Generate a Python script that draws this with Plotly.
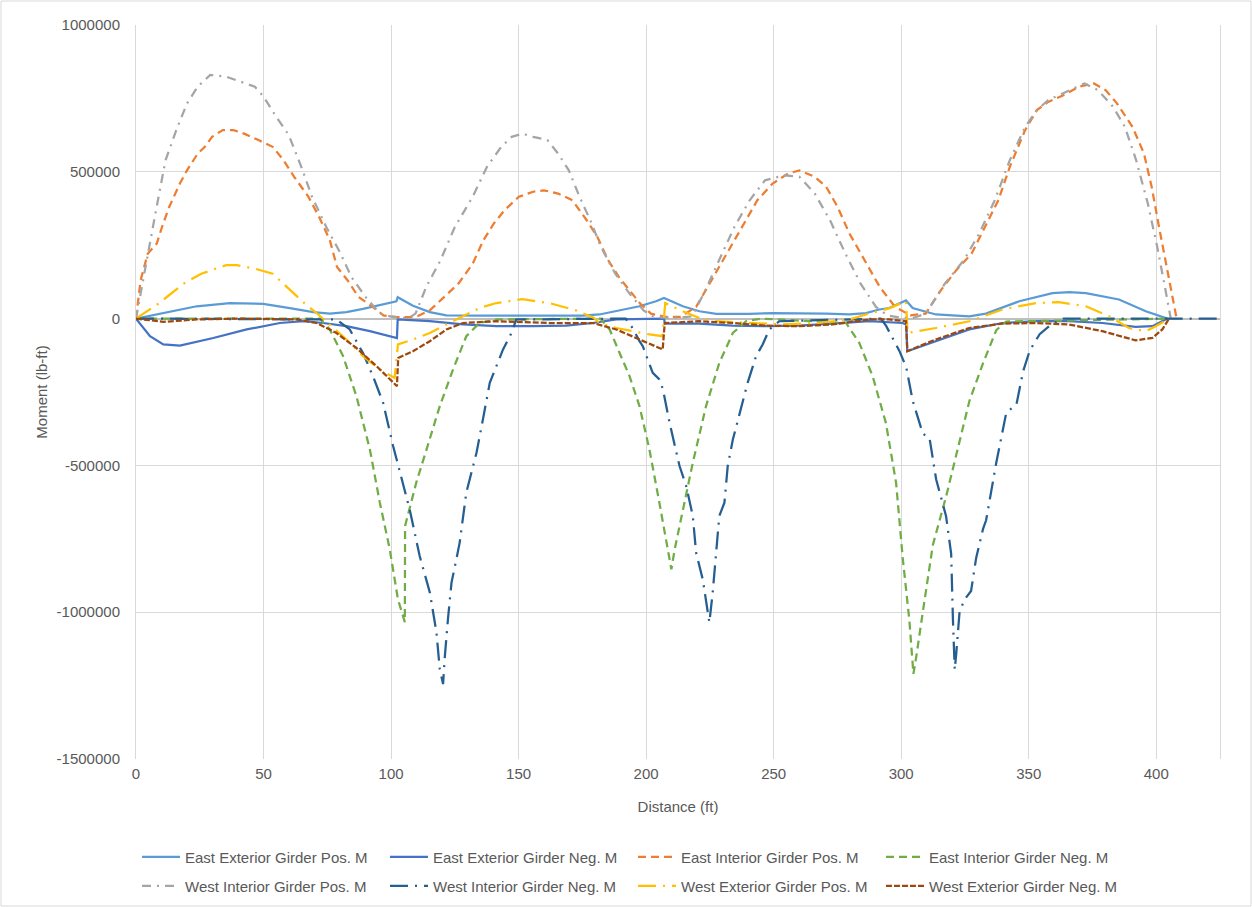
import plotly.graph_objects as go

# ---------------- data (Distance ft, Moment lb-ft) ----------------
eep_x = [0, 10.7, 23.8, 36.8, 49.9, 60.3, 69.5, 76, 82.5, 89,
         96.9, 102.1, 102.6, 108.6, 115.2, 121.7, 134.7, 155.6, 175.1, 181.7,
         188.3, 197.4, 203.9, 207, 214.4, 220.9, 227.5, 240.5, 249.6, 260.1,
         270.5, 279.7, 286.2, 291.4, 295.3, 301.9, 304.5, 313.6, 326.7, 333.2,
         346.3, 359.3, 366, 372.4, 385.4, 395.9, 404.4]
eep_y = [0, 19000, 42000, 53000, 50000, 36000, 22000, 17000, 22000, 33000,
         50000, 59000, 73000, 44000, 22000, 11000, 10000, 10000, 10000, 14000,
         25000, 42000, 59000, 70000, 42000, 25000, 16000, 16000, 19000, 19000,
         17000, 14000, 19000, 31000, 36000, 62000, 36000, 14000, 8000, 17000,
         59000, 87000, 90000, 87000, 65000, 25000, 0]

een_x = [0, 5.5, 10.7, 17.2, 30.3, 43.4, 56.4, 65.5, 73.4, 82.5,
         91.7, 102.3, 102.6, 115.2, 128.2, 141.3, 155.6, 168.7, 179.1, 188.3,
         207, 207.4, 220.9, 233.9, 247, 260.1, 273, 287.5, 300.5, 302,
         302.4, 313.6, 326.7, 339.7, 352.8, 365.8, 378.9, 391.9, 398.5, 404.4]
een_y = [0, -60000, -88000, -92000, -66000, -37000, -15000, -9000, -15000, -26000,
         -43000, -66000, -3000, -9000, -20000, -26000, -26000, -24000, -15000, -3000,
         0, -17000, -17000, -24000, -26000, -24000, -17000, -9000, -15000, -20000,
         -111000, -77000, -37000, -15000, -9000, -9000, -15000, -28000, -26000, 0]

eip_x = [0, 1.8, 4.6, 8.1, 10.2, 13, 17.2, 20, 24.2, 27,
         29.8, 34, 38.2, 42.4, 48, 53.6, 57.8, 62, 67.6, 71.8,
         76, 78.8, 83, 87.2, 92.8, 97, 102.6, 109.6, 115.2, 120.8,
         126.4, 132, 136.2, 140.3, 144.5, 150.1, 155.7, 159.9, 165.5, 171.1,
         176.7, 180.9, 185.1, 189.3, 193.5, 197.7, 201.9, 207.5, 213.5, 219.6,
         225.6, 231.6, 237.6, 243.6, 249.6, 255.6, 260.1, 266.1, 270.6, 275.1,
         279.7, 285.5, 291.6, 297.6, 303.6, 309.6, 315.6, 321.6, 327.6, 332.2,
         338.1, 342.6, 348.6, 353.2, 357.6, 363.6, 369.7, 375.6, 380.2, 384.6,
         390.7, 395.2, 398.2, 401.1, 404.2, 406.4, 408]
eip_y = [0, 130000, 221000, 255000, 312000, 380000, 460000, 505000, 562000, 585000,
         619000, 642000, 642000, 630000, 608000, 585000, 540000, 483000, 415000, 346000,
         267000, 176000, 130000, 74000, 40000, 11000, 5000, 5000, 28000, 74000,
         119000, 187000, 267000, 324000, 369000, 415000, 432000, 437000, 426000, 403000,
         335000, 278000, 199000, 142000, 97000, 51000, 17000, 6000, 6000, 40000,
         130000, 221000, 312000, 403000, 460000, 494000, 505000, 483000, 449000, 380000,
         290000, 199000, 108000, 40000, 11000, 17000, 97000, 165000, 221000, 301000,
         403000, 517000, 642000, 710000, 738000, 761000, 790000, 801000, 778000, 733000,
         653000, 562000, 449000, 312000, 176000, 74000, 0]

ein_x = [0, 72, 76, 81.2, 86.4, 91.7, 95.6, 99.5, 102.7, 105.4,
         105.5, 109.9, 113.9, 119.1, 124.3, 129.5, 134.7, 141.3, 182, 185.7,
         189.6, 193.5, 197.4, 201.3, 205.2, 207.9, 209.9, 211.2, 214.4, 218.3,
         223.5, 228.7, 234, 239.2, 245, 278.4, 283.6, 288.8, 294, 298,
         300.6, 303.2, 304.8, 305.9, 308.5, 312.4, 317.7, 321.6, 326.8, 332.1,
         337.3, 341.2, 405]
ein_y = [0, 0, -37000, -128000, -264000, -446000, -627000, -786000, -956000, -1034000,
         -706000, -558000, -446000, -298000, -173000, -60000, -15000, -3000, 0, -37000,
         -117000, -196000, -298000, -446000, -627000, -763000, -854000, -786000, -650000, -491000,
         -298000, -151000, -49000, -9000, 0, -15000, -83000, -196000, -355000, -559000,
         -815000, -1027000, -1210000, -1153000, -998000, -772000, -603000, -463000, -279000, -152000,
         -39000, -10000, 0]

wip_x = [0, 3.2, 5.3, 8.1, 11.6, 15.8, 20, 24.2, 29.1, 35.4,
         41, 46.6, 50.1, 55, 59.9, 64.8, 69, 74.6, 80.2, 84.4,
         90, 95.6, 100.5, 104, 107, 109.6, 113.8, 119.4, 125, 132,
         137.6, 143.2, 147.3, 151.5, 155.7, 161.3, 165.5, 169.7, 173.9, 178.1,
         182.3, 187.9, 193.5, 199, 203, 207.6, 213, 218, 222.6, 228.6,
         234.6, 240.6, 246.6, 254.1, 260.1, 266.1, 272.1, 278.1, 284.1, 290.1,
         294.6, 300, 305, 309.6, 317.1, 324.6, 330.6, 336.7, 342.6, 348.6,
         353.2, 357.6, 363.6, 371.9, 377.2, 383.1, 387.7, 392.1, 396.7, 400.4,
         403.4, 405.7]
wip_y = [0, 153000, 261000, 381000, 540000, 642000, 733000, 790000, 830000, 824000,
         807000, 790000, 755000, 687000, 625000, 517000, 415000, 312000, 222000, 142000,
         74000, 17000, 6000, 2000, 3000, 17000, 108000, 199000, 312000, 415000,
         517000, 585000, 619000, 630000, 619000, 608000, 562000, 505000, 415000, 335000,
         244000, 153000, 85000, 28000, 6000, 3000, 3000, 8000, 85000, 199000,
         312000, 403000, 471000, 488000, 483000, 426000, 335000, 222000, 119000, 40000,
         11000, 3000, 3000, 17000, 119000, 199000, 290000, 403000, 540000, 653000,
         710000, 744000, 767000, 801000, 778000, 721000, 653000, 540000, 392000, 244000,
         108000, 0]

win_x = [0, 78.6, 83.8, 89, 92.9, 96.9, 100.8, 104.7, 107.3, 111.2,
         115.2, 117.8, 119.1, 120.4, 121, 122.3, 123.7, 125.6, 126.9, 129.5,
         130.8, 133.5, 136, 138.7, 141.3, 143.9, 147.2, 149.1, 192, 194.7,
         197.4, 198.7, 202.6, 205.2, 206.6, 209.2, 213.1, 215.7, 218.3, 219.6,
         222.2, 224.2, 224.8, 226.1, 227.5, 228.7, 230.7, 232, 234, 237.9,
         239.8, 243.1, 245.7, 248.3, 252.2, 292, 294.1, 299.3, 302, 304.5,
         308.5, 311.1, 313.7, 317.6, 319.6, 320.3, 321, 321.6, 322.9, 324.9,
         327.4, 329.4, 332.1, 333.3, 337.3, 341.2, 345.2, 347.8, 350.4, 354.3,
         358.3, 363, 425]
win_y = [0, -3000, -37000, -117000, -196000, -287000, -434000, -559000, -650000, -808000,
         -933000, -1069000, -1194000, -1245000, -1160000, -1024000, -899000, -820000, -763000, -593000,
         -548000, -457000, -344000, -219000, -162000, -105000, -49000, -3000, 0, -32000,
         -77000, -94000, -185000, -207000, -241000, -355000, -502000, -570000, -672000, -797000,
         -888000, -1013000, -1035000, -933000, -797000, -672000, -627000, -502000, -412000, -287000,
         -219000, -128000, -88000, -37000, -9000, 0, -25000, -110000, -166000, -279000,
         -392000, -406000, -547000, -673000, -801000, -1027000, -1196000, -1140000, -998000, -956000,
         -928000, -815000, -716000, -687000, -490000, -321000, -292000, -180000, -109000, -53000,
         -24000, 0, 0]

wep_x = [0, 8.8, 18.6, 25.6, 35.4, 39.6, 46.6, 53.6, 59.1, 66.2,
         70.8, 76, 82.5, 89, 95.6, 101.4, 102.7, 108.6, 115.2, 121.7,
         128.2, 134.7, 141.3, 151.5, 162.5, 172.5, 179.4, 181.7, 188.3, 194.7,
         201.3, 206.4, 207.5, 214.3, 220.9, 227.5, 240.5, 253.4, 266.6, 279.7,
         286.2, 291.4, 295.3, 301.9, 302.5, 313.6, 326.7, 339.7, 352.8, 361.9,
         372.4, 381.5, 389.3, 395.9, 399.8, 405]
wep_y = [0, 51000, 119000, 153000, 182000, 182000, 170000, 153000, 108000, 51000,
         19000, -20000, -71000, -128000, -173000, -202000, -88000, -71000, -49000, -20000,
         8000, 36000, 53000, 66000, 52000, 28000, 3000, -15000, -32000, -43000,
         -54000, -60000, 53000, 25000, 2000, -9000, -15000, -20000, -15000, -3000,
         14000, 25000, 35000, 59000, -49000, -32000, -9000, 31000, 53000, 56000,
         42000, 8000, -32000, -43000, -26000, 0]

wen_x = [0, 10.7, 23.8, 40, 63, 70.8, 78.6, 86.4, 94.3, 102.3,
         102.8, 108.6, 115.2, 121.7, 128.2, 141.3, 162.2, 179.1, 188.3, 197.4,
         206.5, 207.3, 220.9, 233.9, 247, 260.1, 273, 287.5, 295.3, 301.9,
         302.4, 313.6, 326.7, 339.7, 352.8, 365.8, 378.9, 391.9, 398.5, 402.4,
         405]
wen_y = [0, -11000, -3000, 0, -3000, -15000, -49000, -100000, -162000, -230000,
         -134000, -111000, -77000, -37000, -15000, -9000, -15000, -15000, -37000, -71000,
         -105000, -15000, -9000, -15000, -24000, -26000, -20000, -3000, -3000, -9000,
         -111000, -71000, -32000, -17000, -15000, -20000, -43000, -74000, -66000, -37000,
         0]

series_names = ["East Exterior Girder Pos. M", "East Exterior Girder Neg. M",
                "East Interior Girder Pos. M", "East Interior Girder Neg. M",
                "West Interior Girder Pos. M", "West Interior Girder Neg. M",
                "West Exterior Girder Pos. M", "West Exterior Girder Neg. M"]

y_tick_vals = [1000000, 500000, 0, -500000, -1000000, -1500000]
y_tick_text = ["1000000", "500000", "0", "-500000", "-1000000", "-1500000"]
x_tick_vals = [0, 50, 100, 150, 200, 250, 300, 350, 400]

# ---------------- styles ----------------
colors = ["#5B9BD5", "#4472C4", "#ED7D31", "#70AD47",
          "#A5A5A5", "#255E91", "#FFC000", "#9E480E"]
dashes = ["solid", "solid", "8px,5px", "8px,5px",
          "9px,6px,2px,6px", "18px,7px,2px,7px", "18px,7px,2px,7px", "6px,2px"]

data_xy = [(eep_x, eep_y), (een_x, een_y), (eip_x, eip_y), (ein_x, ein_y),
           (wip_x, wip_y), (win_x, win_y), (wep_x, wep_y), (wen_x, wen_y)]

FONT = "Liberation Sans, Arial, sans-serif"
TXT = "#595959"

W, H = 1252, 907
L, R, T, B = 136, 32, 25, 148
pw, ph = W - L - R, H - T - B

fig = go.Figure()
for i, ((xs, ys), name, c, d) in enumerate(zip(data_xy, series_names, colors, dashes)):
    fig.add_trace(go.Scatter(x=xs, y=ys, name=name, mode="lines",
                             legend="legend" if i < 4 else "legend2",
                             line=dict(color=c, width=2.25, dash=d)))

leg_common = dict(orientation="h", x=(137 - L) / pw, xanchor="left", yanchor="middle",
                  font=dict(size=15, color=TXT), entrywidth=195, entrywidthmode="pixels",
                  itemwidth=38, bgcolor="rgba(0,0,0,0)")

fig.update_layout(
    width=W, height=H,
    margin=dict(l=L, r=R, t=T, b=B, autoexpand=False),
    paper_bgcolor="white", plot_bgcolor="white",
    font=dict(family=FONT, color=TXT, size=15),
    showlegend=True,
    legend=dict(y=-(857 - (H - B)) / ph, **leg_common),
    legend2=dict(y=-(886 - (H - B)) / ph, **leg_common),
    xaxis=dict(range=[0, 425], tickvals=x_tick_vals, showgrid=True, gridcolor="#D9D9D9",
               gridwidth=1, zeroline=False, showline=False, ticks="",
               ticklabelstandoff=4, tickfont=dict(size=15, color=TXT), automargin=False,
               title=dict(text="Distance (ft)", font=dict(size=15, color=TXT), standoff=20)),
    yaxis=dict(range=[-1500000, 1000000], tickvals=y_tick_vals, ticktext=y_tick_text,
               showgrid=True, gridcolor="#D9D9D9", gridwidth=1,
               zeroline=True, zerolinecolor="#BFBFBF", zerolinewidth=1.5,
               showline=True, mirror=True, linecolor="#D9D9D9", linewidth=1,
               ticks="", ticklabelstandoff=12, tickfont=dict(size=15, color=TXT), automargin=False,
               title=dict(text="Moment (lb-ft)", font=dict(size=15, color=TXT), standoff=5)),
)

# outer chart-area border
fig.add_shape(type="rect", xref="paper", yref="paper",
              x0=-(L - 1) / pw, x1=(W - 1 - L) / pw, y0=-(H - 1 - (H - B)) / ph, y1=1 + (T - 1) / ph,
              line=dict(color="#D9D9D9", width=1), layer="below")

fig.write_html("out.html", config={"displayModeBar": False},
               post_script="document.body.style.margin='0';")
